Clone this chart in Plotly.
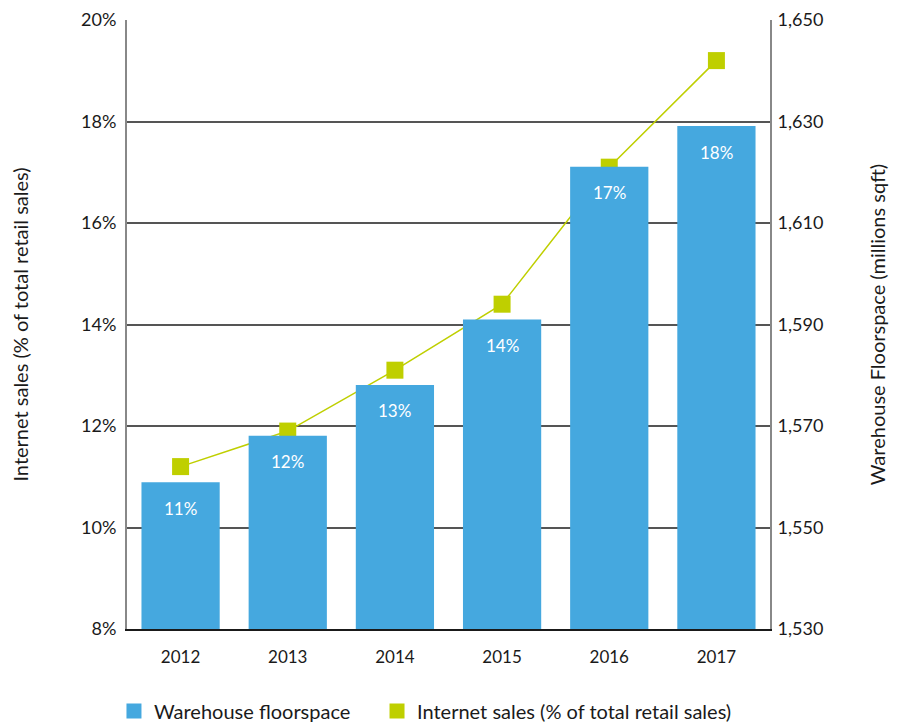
import plotly.graph_objects as go

years = [2012, 2013, 2014, 2015, 2016, 2017]
year_labels = ["2012", "2013", "2014", "2015", "2016", "2017"]
floorspace = [1558.9, 1568.1, 1578.1, 1591.0, 1621.1, 1629.1]
internet_sales = [11.2, 11.9, 13.1, 14.4, 17.1, 19.2]
bar_labels = ["11%", "12%", "13%", "14%", "17%", "18%"]

BLUE = "#45A8DF"
GREEN = "#BFCF00"
FONT = "Lato"
TXT = "#1a1a1a"

fig = go.Figure()

fig.add_trace(go.Bar(
    x=years, y=floorspace, yaxis="y2", marker=dict(color=BLUE, line=dict(width=0)),
    width=0.73, name="Warehouse floorspace", showlegend=False, hoverinfo="skip",
))
fig.add_trace(go.Scatter(
    x=years, y=internet_sales, yaxis="y", mode="lines+markers",
    line=dict(color=GREEN, width=1.5),
    marker=dict(symbol="square", size=17, color=GREEN),
    name="Internet sales (% of total retail sales)", showlegend=False,
))
# legend entries (marker-only, no visible data)
fig.add_trace(go.Scatter(x=[years[0]], y=[None], mode="markers", name="Warehouse floorspace",
                         marker=dict(symbol="square", size=15, color=BLUE), legend="legend"))
fig.add_trace(go.Scatter(x=[years[0]], y=[None], mode="markers",
                         name="Internet sales (% of total retail sales)",
                         marker=dict(symbol="square", size=15, color=GREEN), legend="legend2"))

annotations = []
for yr, v, lab in zip(years, floorspace, bar_labels):
    annotations.append(dict(x=yr, y=v, xref="x", yref="y2", text=lab, showarrow=False,
                            yshift=-26, font=dict(family=FONT, size=17, color="white")))

legend_common = dict(orientation="h", xref="container", yref="container",
                     y=0.0195, yanchor="middle", xanchor="left",
                     font=dict(size=20, color=TXT), bgcolor="rgba(0,0,0,0)")

fig.update_layout(
    width=892, height=717,
    margin=dict(l=119, r=130, t=12, b=96, autoexpand=False),
    paper_bgcolor="white", plot_bgcolor="white",
    font=dict(family=FONT, size=17, color=TXT),
    xaxis=dict(type="linear", range=[years[0] - 0.5, years[-1] + 0.5], automargin=False,
               tickmode="array", tickvals=years, ticktext=year_labels,
               showgrid=False, showline=True, linecolor=TXT, linewidth=2, zeroline=False,
               ticks="", ticklabelstandoff=12, tickfont=dict(size=17, color=TXT)),
    yaxis=dict(range=[8, 20], dtick=2, tick0=8, ticksuffix="%", showgrid=True, gridcolor="#555555",
               gridwidth=1.5, showline=True, linecolor="#888888", linewidth=2, ticks="",
               automargin=False, ticklabelstandoff=5, ticklabeloverflow="allow", zeroline=False,
               tickfont=dict(size=18, color=TXT),
               title=dict(text="Internet sales (% of total retail sales)", standoff=57,
                          font=dict(size=20, color=TXT))),
    yaxis2=dict(range=[1530, 1650], dtick=20, tick0=1530, tickformat=",", overlaying="y", side="right",
                showgrid=False, showline=True, linecolor="#888888", linewidth=2, ticks="",
                automargin=False, ticklabelstandoff=2, ticklabeloverflow="allow", zeroline=False,
                tickfont=dict(size=18, color=TXT),
                title=dict(text="Warehouse Floorspace (millions sqft)", standoff=49,
                           font=dict(size=20, color=TXT))),
    legend=dict(x=0.1188, **legend_common),
    legend2=dict(x=0.4137, **legend_common),
    annotations=annotations,
)

fig.write_html("out.html")
